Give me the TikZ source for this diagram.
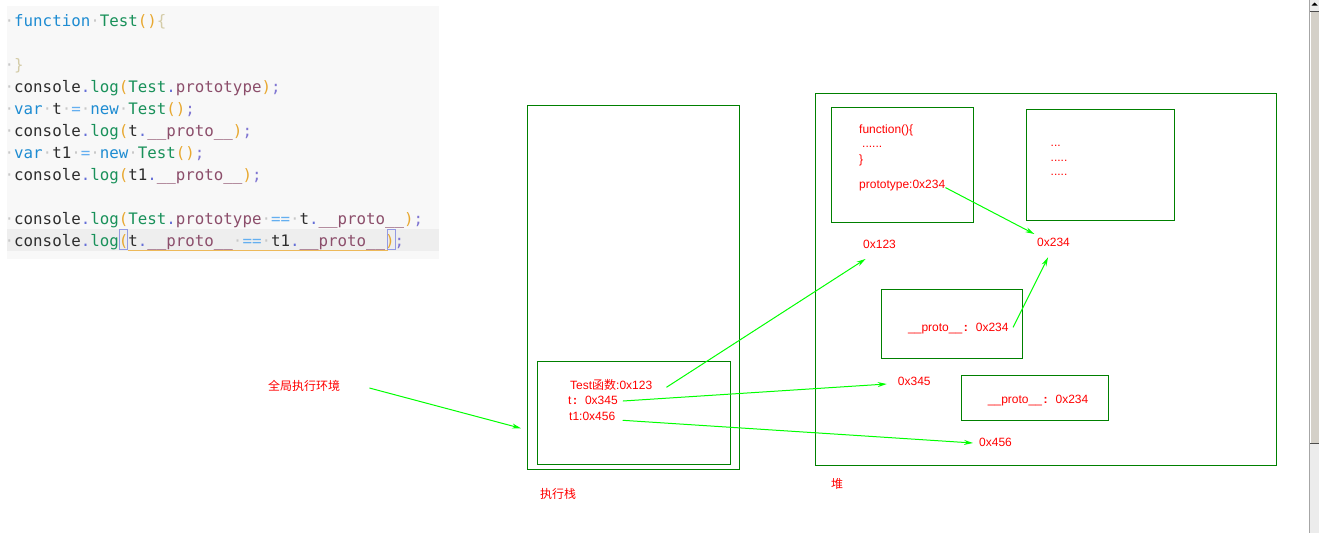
\documentclass[tikz,border=0pt]{standalone}
\usepackage{fontspec}
\setmainfont{Liberation Sans}
\setmonofont{DejaVu Sans Mono}
\newfontfamily\cjk{Noto Sans CJK SC}
\usetikzlibrary{arrows.meta}
\definecolor{boxgreen}{RGB}{0,128,0}
\definecolor{ptrgreen}{RGB}{0,255,0}
\definecolor{txtred}{RGB}{255,0,0}
\definecolor{codebg}{RGB}{248,248,248}
\definecolor{codehl}{RGB}{238,238,238}
\definecolor{cdark}{RGB}{45,45,45}
\definecolor{ckey}{RGB}{30,140,210}
\definecolor{cfn}{RGB}{25,145,90}
\definecolor{cpar}{RGB}{232,168,48}
\definecolor{cbrace}{RGB}{212,204,168}
\definecolor{cprop}{RGB}{140,78,107}
\definecolor{cdot}{RGB}{100,110,215}
\definecolor{csemi}{RGB}{128,118,210}
\definecolor{cop}{RGB}{100,175,240}
\definecolor{cws}{RGB}{200,200,200}
\definecolor{bargrey}{RGB}{212,208,200}
\newcommand\cKw[1]{\textcolor{ckey}{#1}}
\newcommand\cFn[1]{\textcolor{cfn}{#1}}
\newcommand\cPa[1]{\textcolor{cpar}{#1}}
\newcommand\cPr[1]{\textcolor{cprop}{#1}}
\newcommand\cOp[1]{\textcolor{cop}{#1}}
\newcommand\cBr[1]{\textcolor{cbrace}{#1}}
\newcommand\cDt{\textcolor{cdot}{.}}
\newcommand\cSm{\textcolor{csemi}{;}}
\newcommand\cWs{\textcolor{cws}{·}}
\newcommand\wcol{\hspace{1.5pt}\textbf{:}\hspace{8pt}}

\begin{document}
\begin{tikzpicture}[x=1pt,y=-1pt,
    box/.style={draw=boxgreen,line width=1pt,inner sep=0,outer sep=0,anchor=north west},
    lbl/.style={text=txtred,font=\fontsize{12}{14}\selectfont,inner sep=0,anchor=base west},
    code/.style={text=cdark,font=\ttfamily\fontsize{15.8}{18}\selectfont,inner sep=0,anchor=base west},
    ptr/.style={draw=ptrgreen,line width=1pt,-{Stealth[length=9pt,width=5pt]}}]
  \useasboundingbox (0,0) rectangle (1319,533);
  \fill[white] (0,0) rectangle (1319,533);

  % code panel
  \fill[codebg] (7,6) rectangle (439,259);
  \fill[codehl] (7,229) rectangle (439,251);
  \node[code] (ln1) at (4.5,26) {\cWs\cKw{function}\cWs\cFn{Test}\cPa{()}\cBr{\{}};
  \node[code] (ln3) at (4.5,70) {\cWs\cBr{\}}};
  \node[code] (ln4) at (4.5,92) {\cWs console\cDt\cFn{log}\cPa{(}\cFn{Test}\cDt\cPr{prototype}\cPa{)}\cSm};
  \node[code] (ln5) at (4.5,114) {\cWs\cKw{var}\cWs t\cWs\cOp{=}\cWs\cKw{new}\cWs\cFn{Test}\cPa{()}\cSm};
  \node[code] (ln6) at (4.5,136) {\cWs console\cDt\cFn{log}\cPa{(}t\cDt\cPr{\_\_proto\_\_}\cPa{)}\cSm};
  \node[code] (ln7) at (4.5,158) {\cWs\cKw{var}\cWs t1\cWs\cOp{=}\cWs\cKw{new}\cWs\cFn{Test}\cPa{()}\cSm};
  \node[code] (ln8) at (4.5,180) {\cWs console\cDt\cFn{log}\cPa{(}t1\cDt\cPr{\_\_proto\_\_}\cPa{)}\cSm};
  \node[code] (ln10) at (4.5,224) {\cWs console\cDt\cFn{log}\cPa{(}\cFn{Test}\cDt\cPr{prototype}\cWs\cOp{==}\cWs t\cDt\cPr{\_\_proto\_\_}\cPa{)}\cSm};
  \node[code] (ln11) at (4.5,246) {\cWs console\cDt\cFn{log}\cPa{(}t\cDt\cPr{\_\_proto\_\_}\cWs\cOp{==}\cWs t1\cDt\cPr{\_\_proto\_\_}\cPa{)}\cSm};
  \draw[cdot!70,line width=1pt] (119.5,229.5) rectangle (127.5,249.5);
  \draw[cdot!70,line width=1pt] (387.5,229.5) rectangle (395.5,249.5);
  \draw[cpar!80,line width=1pt] (127.5,250) -- (387.5,250);

  % stack
  \node[box,minimum width=212pt,minimum height=364pt] (stack) at (527,105) {};
  \node[box,minimum width=193pt,minimum height=103pt] (ctx) at (537,361) {};
  \node[lbl] (tfn) at (570,389.5) {Test{\cjk 函数}:0x123};
  \node[lbl] (tvar) at (568,404.3) {t\wcol 0x345};
  \node[lbl] (t1var) at (569,420) {t1:0x456};
  \node[lbl] (stacklbl) at (540,498.6) {\cjk 执行栈};
  \node[lbl] (glob) at (268,390.6) {\cjk 全局执行环境};

  % heap
  \node[box,minimum width=461pt,minimum height=372pt] (heap) at (815,93) {};
  \node[lbl] (heaplbl) at (831,488.6) {\cjk 堆};
  \node[box,minimum width=142pt,minimum height=115pt] (fnbox) at (831,107) {};
  \node[lbl] (fn1) at (859,133) {function()\{};
  \node[lbl] (fn2) at (862,147.5) {......};
  \node[lbl] (fn3) at (859,163.5) {\}};
  \node[lbl] (fn4) at (859,188.6) {prototype:0x234};
  \node[box,minimum width=148pt,minimum height=111pt] (objbox) at (1026,109) {};
  \node[lbl] (ob1) at (1050.5,146) {...};
  \node[lbl] (ob2) at (1050.5,161) {.....};
  \node[lbl] (ob3) at (1050.5,175.5) {.....};
  \node[lbl] (a123) at (863,248.6) {0x123};
  \node[lbl] (a234) at (1037,246.6) {0x234};
  \node[box,minimum width=141pt,minimum height=69pt] (p1box) at (881,289) {};
  \node[lbl] (p1txt) at (908,331.6) {\_\_proto\_\_\wcol 0x234};
  \node[box,minimum width=147pt,minimum height=45pt] (p2box) at (961,375) {};
  \node[lbl] (p2txt) at (987.7,403.6) {\_\_proto\_\_\wcol 0x234};
  \node[lbl] (a345) at (897.7,385.3) {0x345};
  \node[lbl] (a456) at (979,446.6) {0x456};

  % pointers
  \draw[ptr] ([shift={(29,-2.6)}]glob.base east) -- ([shift={(-16,15.8)}]ctx.west);
  \draw[ptr] ([shift={(14,-2.2)}]tfn.base east) -- ([shift={(2.5,10.4)}]a123.base west);
  \draw[ptr] ([shift={(5,-3.3)}]tvar.base east) -- ([shift={(-11,-1.3)}]a345.base west);
  \draw[ptr] ([shift={(7.3,0.3)}]t1var.base east) -- ([shift={(-6,-3.6)}]a456.base west);
  \draw[ptr] ([shift={(0,-1)}]fn4.base east) -- ([shift={(-2.7,-12.6)}]a234.base west);
  \draw[ptr] ([shift={(4.3,-4.3)}]p1txt.base east) -- ([shift={(-5.5,10.7)}]a234.base);

  % scroll bar
  \fill[gray!15] (1309,0) rectangle (1319,533);
  \fill[bargrey] (1309,12) rectangle (1319,443);
  \draw[white,line width=1pt] (1310.5,12) -- (1310.5,443);
  \draw[gray!60!black,line width=1pt] (1309,11.5) -- (1319,11.5) (1309,443.5) -- (1319,443.5);
  \draw[gray!70,line width=0.6pt] (1309.3,0) -- (1309.3,533);
  \fill[black] (1314.5,2.5) -- (1317.5,5.5) -- (1311.5,5.5) -- cycle;
\end{tikzpicture}
\end{document}
